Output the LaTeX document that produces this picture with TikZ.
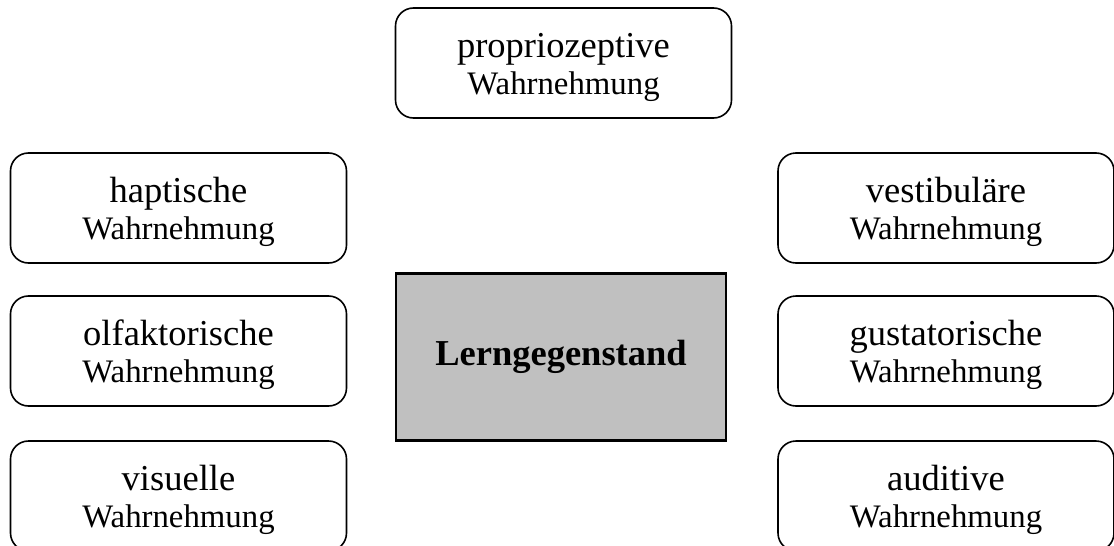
\documentclass[tikz,border=0pt]{standalone}
\usepackage{fontspec}
\setmainfont{Liberation Serif}
\usepackage{tikz}

\newcommand{\wahr}[1]{\rule{0pt}{34pt}#1\\\fontsize{32.8}{37}\selectfont Wahrnehmung\rule[-7pt]{0pt}{7pt}}

\tikzset{
	sinnbox/.style={draw, line width=1.6pt, rounded corners=18pt, minimum width=336pt, minimum height=110pt, inner sep=0pt, align=center, font=\fontsize{36.5}{37}\selectfont},
	mittebox/.style={draw, line width=2.4pt, fill=lerngrau, minimum width=330pt, minimum height=167pt, inner sep=0pt, font=\fontsize{36.5}{37}\selectfont\bfseries}
}
\definecolor{lerngrau}{HTML}{C0C0C0}

\begin{document}
\begin{tikzpicture}[x=1pt,y=-1pt]
			\useasboundingbox (0,0) rectangle (1114,546);
			\clip (0,0) rectangle (1114,546);
			\fill[white] (0,0) rectangle (1114,546);
			\node[sinnbox] (proprio) at (563.5,63) {\wahr{propriozeptive}};
			\node[sinnbox] (haptisch) at (178.5,208) {\wahr{haptische}};
			\node[sinnbox] (olfakt) at (178.5,351) {\wahr{olfaktorische}};
			\node[sinnbox] (visuell) at (178.5,496) {\wahr{visuelle}};
			\node[sinnbox] (vestibul) at (946,208) {\wahr{vestibuläre}};
			\node[sinnbox] (gustat) at (946,351) {\wahr{gustatorische}};
			\node[sinnbox] (auditiv) at (946,496) {\wahr{auditive}};
			\node[mittebox] (lern) at (561,357) {Lerngegenstand};
		\end{tikzpicture}
\end{document}
